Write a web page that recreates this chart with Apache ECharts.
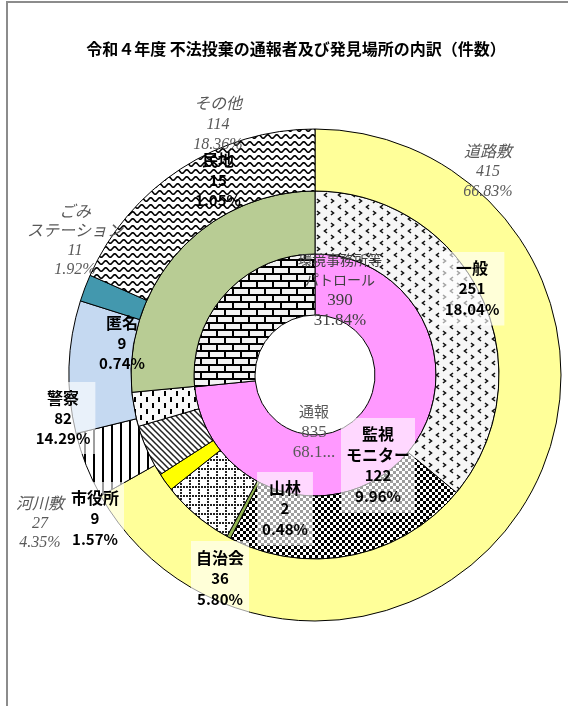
<!DOCTYPE html>
<html>
<head>
<meta charset="utf-8">
<script src="https://cdn.jsdelivr.net/npm/echarts@6/dist/echarts.min.js"></script>
<style>
  html, body { margin: 0; padding: 0; background: #fff; }
  #chart { width: 568px; height: 706px; }
</style>
</head>
<body>
<div id="chart"></div>
<script>
// ---- data ----
const titleText = '令和４年度 不法投棄の通報者及び発見場所の内訳（件数）';

// inner ring: reporters (aggregate)
const innerNames = ['通報', '環境事務所等パトロール'];
const innerValues = [835, 302];

// middle ring: reporter breakdown
const middleNames = ['一般', '監視モニター', '山林', '自治会', '市役所', '区分A', '区分B', 'パトロール'];
const middleValues = [204, 122, 2, 36, 9, 26, 17, 150];

// outer ring: places found
const outerNames = ['道路敷', '河川敷', 'その他の場所', 'ごみステーション', 'その他'];
const outerValues = [415, 27, 54, 11, 114];

// annotation texts
const noteNames = ['その他', '民地', '道路敷', '一般', '環境事務所等\nパトロール', '通報', '監視\nモニター', '山林', '自治会', '市役所', '河川敷', '警察', '匿名', 'ごみ\nステーション'];
const noteCounts = ['114', '15', '415', '251', '390', '835', '122', '2', '36', '9', '27', '82', '9', '11'];
const notePercents = ['18.36%', '1.05%', '66.83%', '18.04%', '31.84%', '68.1...', '9.96%', '0.48%', '5.80%', '1.57%', '4.35%', '14.29%', '0.74%', '1.92%'];

// ---- fill patterns ----
function tile(w, h, draw) {
  const c = document.createElement('canvas');
  c.width = w; c.height = h;
  const g = c.getContext('2d');
  draw(g, w, h);
  return { image: c, repeat: 'repeat' };
}
const patVertLines = tile(9, 9, (g, w, h) => {
  g.fillStyle = '#fff'; g.fillRect(0, 0, w, h);
  g.fillStyle = '#000'; g.fillRect(3, 0, 2, h);
});
const patWave = tile(9, 7, (g, w, h) => {
  g.fillStyle = '#fff'; g.fillRect(0, 0, w, h);
  g.strokeStyle = '#000'; g.lineWidth = 1.6;
  g.beginPath();
  for (let x = -1; x <= w + 1; x += 0.5) {
    const y = 3.5 + 1.7 * Math.sin(2 * Math.PI * x / w);
    if (x === -1) g.moveTo(x, y); else g.lineTo(x, y);
  }
  g.stroke();
});
const patChevron = tile(14, 12, (g, w, h) => {
  g.fillStyle = '#f6f6f6'; g.fillRect(0, 0, w, h);
  g.strokeStyle = '#111'; g.lineWidth = 1.6;
  g.beginPath(); g.moveTo(5, 1); g.lineTo(2.5, 3); g.lineTo(5, 5); g.stroke();
  g.beginPath(); g.moveTo(9, 7); g.lineTo(11.5, 9); g.lineTo(9, 11); g.stroke();
});
const patChecker = tile(6, 6, (g, w, h) => {
  g.fillStyle = '#fff'; g.fillRect(0, 0, w, h);
  g.fillStyle = '#000'; g.fillRect(0, 0, 3, 3); g.fillRect(3, 3, 3, 3);
});
const patDotGrid = tile(9, 9, (g, w, h) => {
  g.fillStyle = '#fff'; g.fillRect(0, 0, w, h);
  g.fillStyle = '#222';
  for (let i = 0; i < 9; i += 3) { g.fillRect(i, 0, 2, 2); g.fillRect(0, i, 2, 2); }
});
const patDiagonal = tile(6, 6, (g, w, h) => {
  g.fillStyle = '#fff'; g.fillRect(0, 0, w, h);
  g.strokeStyle = '#222'; g.lineWidth = 1.5;
  g.beginPath();
  g.moveTo(-1, -1); g.lineTo(w + 1, h + 1);
  g.moveTo(-1, h - 1); g.lineTo(1, h + 1);
  g.moveTo(w - 1, -1); g.lineTo(w + 1, 1);
  g.stroke();
});
const patDashes = tile(12, 12, (g, w, h) => {
  g.fillStyle = '#fafafa'; g.fillRect(0, 0, w, h);
  g.fillStyle = '#000';
  g.fillRect(2, 1, 2, 5); g.fillRect(8, 7, 2, 5);
});
const patBrick = tile(16, 14, (g, w, h) => {
  g.fillStyle = '#f4f4f4'; g.fillRect(0, 0, w, h);
  g.fillStyle = '#000';
  g.fillRect(0, 0, w, 2); g.fillRect(0, 7, w, 2);
  g.fillRect(0, 0, 2, 7); g.fillRect(8, 7, 2, 7);
});

const innerFills = ['#FF99FF', patBrick];
const middleFills = [patChevron, patChecker, '#92B552', patDotGrid, '#FFFF00', patDiagonal, patDashes, '#B8CC94'];
const outerFills = ['#FFFF99', patVertLines, '#C5D9F1', '#4398AE', patWave];

function ring(names, values, fills, radius) {
  return {
    type: 'pie',
    center: [315, 375],
    radius: radius,
    startAngle: 90,
    clockwise: true,
    avoidLabelOverlap: false,
    silent: true,
    label: { show: false },
    labelLine: { show: false },
    emphasis: { disabled: true },
    itemStyle: { borderColor: '#000', borderWidth: 1 },
    data: values.map((v, i) => ({ name: names[i], value: v, itemStyle: { color: fills[i] } }))
  };
}

// ---- annotation styles ----
const SERIF = '"Liberation Serif", "Noto Sans CJK JP", serif';
const GOTHIC = '"Noto Sans CJK JP", sans-serif';
const STYLES = {
  place:  { a: { fontFamily: SERIF, fontStyle: 'italic', fontSize: 16 }, b: { fontFamily: SERIF, fontStyle: 'italic', fontSize: 16 }, fill: '#595959' },
  person: { a: { fontFamily: GOTHIC, fontWeight: 'bold', fontSize: 16 }, b: { fontFamily: GOTHIC, fontWeight: 'bold', fontSize: 15 }, fill: '#000' },
  ringA:  { a: { fontFamily: SERIF, fontSize: 14 }, b: { fontFamily: SERIF, fontSize: 17 }, fill: '#404040' },
  ringB:  { a: { fontFamily: SERIF, fontSize: 15 }, b: { fontFamily: SERIF, fontSize: 17 }, fill: '#595959' }
};
const BOX = 'rgba(255,255,255,0.62)';
const noteLayout = [
  { x: 218, y: 95,  kind: 'place',  lh: 20 },
  { x: 218, y: 150, kind: 'person', lh: 20 },
  { x: 488, y: 143, kind: 'place',  lh: 19.5 },
  { x: 472, y: 252, kind: 'person', lh: 20.5, box: true },
  { x: 340, y: 252, kind: 'ringA',  lh: 19.5 },
  { x: 314, y: 403, kind: 'ringB',  lh: 20 },
  { x: 378, y: 418, kind: 'person', lh: 20.7, box: true },
  { x: 285, y: 472, kind: 'person', lh: 20.5, box: true },
  { x: 220, y: 541, kind: 'person', lh: 21, box: true },
  { x: 95,  y: 482, kind: 'person', lh: 20.5, box: true },
  { x: 40,  y: 495, kind: 'place',  lh: 19 },
  { x: 63,  y: 382, kind: 'person', lh: 20, box: true },
  { x: 122, y: 313, kind: 'person', lh: 20 },
  { x: 75,  y: 203, kind: 'place',  lh: 19 }
];

const notes = noteNames.map((n, i) => {
  const L = noteLayout[i];
  const S = STYLES[L.kind];
  const lines = n.split('\n').map(s => '{a|' + s + '}')
    .concat(['{b|' + noteCounts[i] + '}', '{b|' + notePercents[i] + '}']);
  return {
    type: 'text',
    x: L.x,
    y: L.y,
    z: 10,
    silent: true,
    style: {
      text: lines.join('\n'),
      fill: S.fill,
      align: 'center',
      verticalAlign: 'top',
      lineHeight: L.lh,
      rich: {
        a: Object.assign({ fill: S.fill, lineHeight: L.lh }, S.a),
        b: Object.assign({ fill: S.fill, lineHeight: L.lh }, S.b)
      },
      backgroundColor: L.box ? BOX : 'transparent',
      padding: L.box ? [6, 5, 6, 5] : 0
    }
  };
});

const chart = echarts.init(document.getElementById('chart'), null, { renderer: 'canvas' });
chart.setOption({
  animation: false,
  backgroundColor: '#fff',
  title: {
    text: titleText,
    left: 291,
    top: 36,
    textAlign: 'center',
    textStyle: { fontFamily: GOTHIC, fontSize: 16, fontWeight: 'bold', color: '#000' }
  },
  graphic: [
    { type: 'rect', z: 0, silent: true, shape: { x: 7, y: 2, width: 620, height: 760 }, style: { fill: 'none', stroke: '#8c8c8c', lineWidth: 2 } }
  ].concat(notes),
  series: [
    ring(innerNames, innerValues, innerFills, [60, 121]),
    ring(middleNames, middleValues, middleFills, [121, 184]),
    ring(outerNames, outerValues, outerFills, [184, 246])
  ]
});
</script>
</body>
</html>
